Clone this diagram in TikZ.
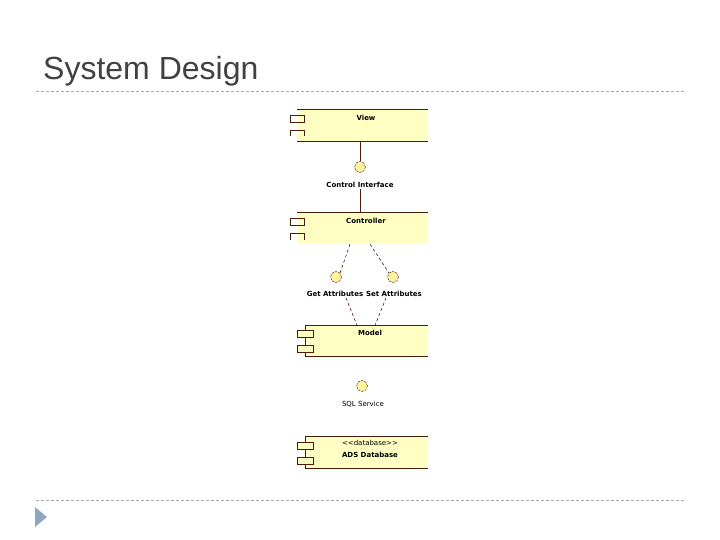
\documentclass[tikz,border=0pt]{standalone}
\usepackage{fontspec}
\setmainfont{Liberation Sans}
\newfontfamily\umlfont{DejaVu Sans}
\usepackage{xcolor}
\usetikzlibrary{positioning, arrows.meta}

\definecolor{compfill}{HTML}{FFFFC4}
\definecolor{ifacefill}{HTML}{FFF2A0}
\definecolor{umlline}{HTML}{4A1C0C}
\definecolor{titlegray}{HTML}{404045}
\definecolor{rulegray}{HTML}{A8A8A8}
\definecolor{bulletblue}{HTML}{8FA6C2}

\tikzset{
    comp/.style={fill=compfill, minimum height=31pt, inner sep=0pt},
    iface/.style={circle, fill=ifacefill, draw=umlline, dash pattern=on 2.5pt off 1pt, minimum size=11pt, inner sep=0pt},
    umltext/.style={font=\umlfont\fontsize{7}{8}\selectfont\bfseries, inner sep=1pt},
    link/.style={draw=umlline, line width=0.8pt},
    dep/.style={draw=umlline, line width=0.6pt, dash pattern=on 3pt off 2.5pt},
    tab/.style={draw=umlline, line width=0.8pt},
    sepline/.style={draw=rulegray, line width=0.6pt, dash pattern=on 3pt off 2pt}
}

\begin{document}
\begin{tikzpicture}[x=1pt, y=-1pt]
    \useasboundingbox (0,0) rectangle (720,540);

    % slide frame
    \node[anchor=base west, inner sep=0pt, text=titlegray, font=\fontsize{32}{38}\selectfont] (title) at (43,80) {System Design};
    \draw[sepline] (36,91) -- (685,91);
    \draw[sepline] (36,500) -- (685,500);
    \fill[bulletblue] (35,507) -- (47,517) -- (35,527) -- cycle;

    % components
    \node[comp, minimum width=131pt] (view) at (362.5,125.5) {};
    \node[comp, minimum width=131pt] (ctrl) at (362.5,228.5) {};
    \node[comp, minimum width=122pt] (model) at (367,341) {};
    \node[comp, minimum width=122pt] (db) at (367,452.5) {};

    \draw[link] (view.north west) -- (view.north east);
    \draw[link] (view.south west) -- (view.south east);
    \draw[link] (ctrl.north west) -- (ctrl.north east);
    \draw[link] (model.north east) -- (model.north west) -- (model.south west) -- (model.south east);
    \draw[link] (db.north east) -- (db.north west) -- (db.south west) -- (db.south east);

    % component icons
    \draw[tab] (290,115) rectangle (304,122);
    \draw[tab] (290,136) -- (290,130) -- (304,130) -- (304,136);
    \draw[tab] (290,218) rectangle (304,225);
    \draw[tab] (290,240) -- (290,233) -- (304,233) -- (304,240);
    \foreach \top in {330,345}
    {
        \filldraw[tab, fill=compfill] (297,\top) rectangle (313,\top+7);
    }
    \foreach \top in {442,457}
    {
        \filldraw[tab, fill=compfill] (297,\top) rectangle (313,\top+7);
    }

    % labels
    \node[umltext] (viewlbl) at (366,118) {View};
    \node[umltext] (ctrllbl) at (366,221) {Controller};
    \node[umltext] (modellbl) at (370,333) {Model};
    \node[umltext, font=\umlfont\fontsize{7}{8}\selectfont] (dbstereo) at (370,443) {<<database>>};
    \node[umltext] (dblbl) at (370,455) {ADS Database};

    % interfaces
    \node[iface] (ci) at (360,167) {};
    \node[umltext] (cilbl) at (360,185) {Control Interface};
    \node[iface] (ga) at (336,277) {};
    \node[iface] (sa) at (393,277) {};
    \node[umltext] (galbl) at (335,294) {Get Attributes};
    \node[umltext] (salbl) at (394,294) {Set Attributes};
    \node[iface] (sql) at (362,386) {};
    \node[umltext, font=\umlfont\fontsize{7}{8}\selectfont] (sqllbl) at (363,404) {SQL Service};

    % connectors
    \draw[link] (ci.north) -- (ci.north |- view.south);
    \draw[link] (cilbl.south) -- (cilbl.south |- ctrl.north);
    \draw[dep] ([xshift=-12.5pt]ctrl.south) -- (ga.north east);
    \draw[dep] ([xshift=7.5pt]ctrl.south) -- (sa.north west);
    \draw[dep] ([xshift=11pt]galbl.south) -- ([xshift=-10pt]model.north);
    \draw[dep] ([xshift=-8pt]salbl.south) -- ([xshift=8pt]model.north);
\end{tikzpicture}
\end{document}
